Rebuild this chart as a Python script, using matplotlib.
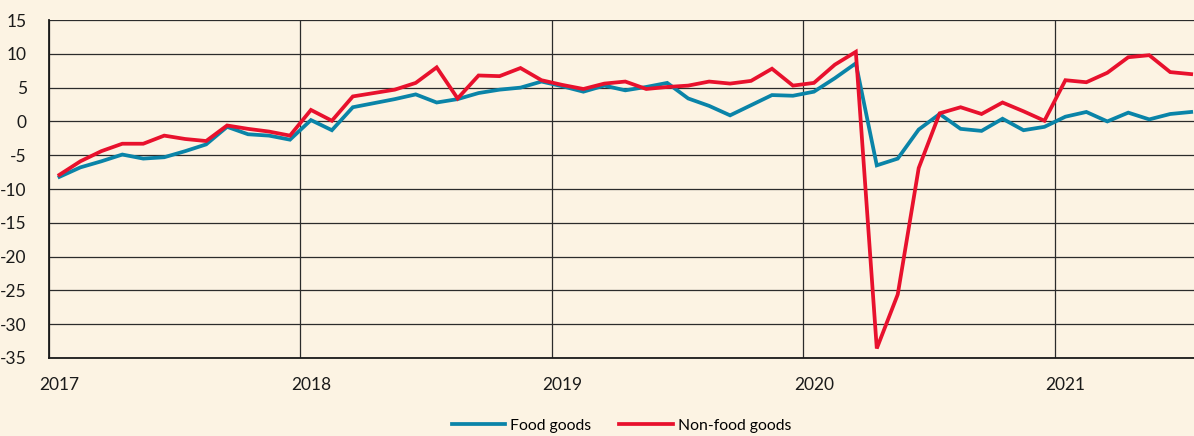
import numpy as np
import matplotlib
matplotlib.use("Agg")
from matplotlib import pyplot as plt

# monthly values, Jan 2017 .. Jul 2021
food_goods = [
    -8.2, -6.8, -5.9, -4.9, -5.5, -5.3, -4.4, -3.4, -0.8, -1.9, -2.1, -2.7,
    0.2, -1.3, 2.1, 2.7, 3.3, 4.0, 2.8, 3.3, 4.2, 4.7, 5.0, 5.9,
    5.2, 4.4, 5.3, 4.6, 5.1, 5.7, 3.4, 2.3, 0.9, 2.4, 3.9, 3.8,
    4.4, 6.4, 8.6, -6.5, -5.5, -1.2, 1.1, -1.1, -1.4, 0.4, -1.3, -0.8,
    0.7, 1.4, 0.0, 1.3, 0.3, 1.1, 1.4,
]
non_food_goods = [
    -7.9, -5.9, -4.4, -3.3, -3.3, -2.1, -2.6, -2.9, -0.6, -1.1, -1.5, -2.1,
    1.7, 0.1, 3.7, 4.2, 4.7, 5.7, 8.0, 3.4, 6.8, 6.7, 7.9, 6.1,
    5.4, 4.8, 5.6, 5.9, 4.8, 5.1, 5.3, 5.9, 5.6, 6.0, 7.8, 5.3,
    5.7, 8.4, 10.3, -33.6, -25.6, -6.9, 1.2, 2.1, 1.1, 2.8, 1.5, 0.1,
    6.1, 5.8, 7.2, 9.5, 9.8, 7.3, 7.0,
]
years = [2017, 2018, 2019, 2020, 2021]
y_ticks = [15, 10, 5, 0, -5, -10, -15, -20, -25, -30, -35]

BG = "#fcf3e3"
plt.rcParams["font.family"] = ["Lato", "DejaVu Sans"]

x = 2017 + (np.arange(len(food_goods)) + 0.5) / 12

fig = plt.figure(figsize=(11.94, 4.36), dpi=100, facecolor=BG)
ax = fig.add_axes([0.041, 0.179, 0.959, 0.775], facecolor=BG)

ax.plot(x, food_goods, color="#0a84a8", lw=2.7, label="Food goods",
        solid_joinstyle="miter", zorder=3)
ax.plot(x, non_food_goods, color="#e8112d", lw=2.7, label="Non-food goods",
        solid_joinstyle="miter", zorder=4)

ax.set_xlim(2017, 2021.553)
ax.set_ylim(-35, 15)
ax.set_yticks(y_ticks)
ax.set_yticklabels([str(v) for v in y_ticks])

# year gridlines on major ticks, labels on minor ticks at mid-January
ax.set_xticks(years)
ax.set_xticklabels([])
ax.set_xticks([yr + 0.5 / 12 for yr in years], minor=True)
ax.set_xticklabels([str(yr) for yr in years], minor=True)
ax.tick_params(axis="x", which="both", length=0)
ax.tick_params(axis="x", which="minor", pad=14, labelsize=12.5, colors="#1a1a1a")
ax.tick_params(axis="y", length=0, pad=16, labelsize=12.5, colors="#1a1a1a")

ax.grid(True, which="major", color="#2b2b2b", lw=0.9, zorder=1)
for s in ["top", "right"]:
    ax.spines[s].set_visible(False)
for s in ["left", "bottom"]:
    ax.spines[s].set_color("#1a1a1a")
    ax.spines[s].set_linewidth(1.3)

ax.legend(loc="center", bbox_to_anchor=(0.5, -0.2), ncol=2,
          frameon=False, fontsize=11.3, handlelength=3.4, columnspacing=1.8,
          handletextpad=0.3, borderpad=0)

fig.savefig("out.png", dpi=100, facecolor=BG)
